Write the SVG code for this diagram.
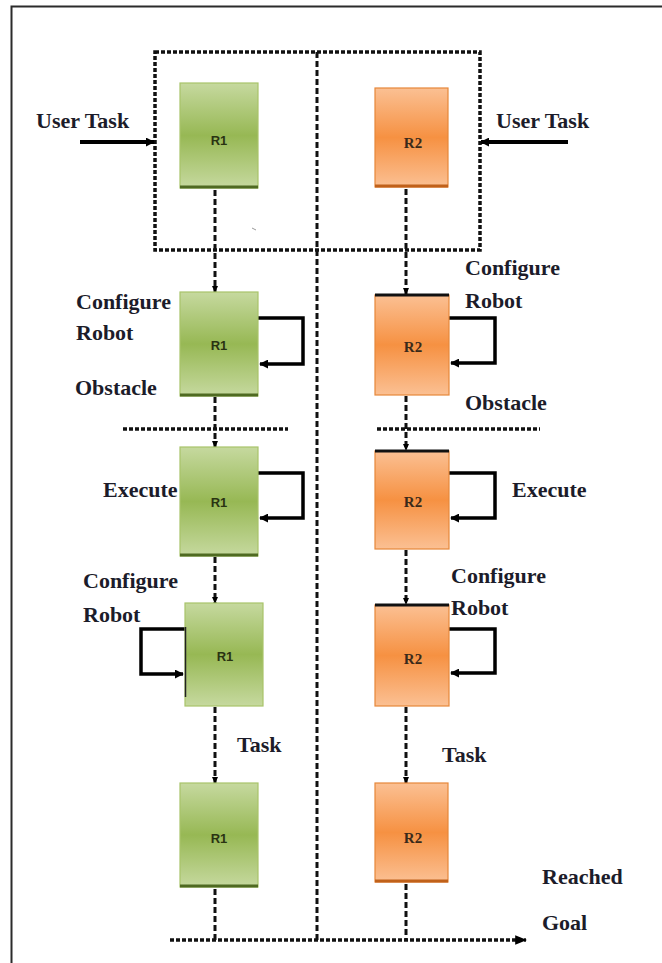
<svg xmlns="http://www.w3.org/2000/svg" width="662" height="963" viewBox="0 0 662 963">
<defs>
<linearGradient id="gG" x1="0" y1="0" x2="0" y2="1">
<stop offset="0" stop-color="#c6d99f"/>
<stop offset="0.5" stop-color="#97b854"/>
<stop offset="1" stop-color="#c6d99f"/>
</linearGradient>
<linearGradient id="gO" x1="0" y1="0" x2="0" y2="1">
<stop offset="0" stop-color="#fbc093"/>
<stop offset="0.5" stop-color="#f69142"/>
<stop offset="1" stop-color="#fbc093"/>
</linearGradient>
<marker id="dot" viewBox="0 0 8 8" refX="6" refY="4" markerWidth="8" markerHeight="8" markerUnits="userSpaceOnUse" orient="auto">
<path d="M0,1 L7,4 L0,7 Z" fill="#000"/>
</marker>
<marker id="arr" viewBox="0 0 10 10" refX="9" refY="5" markerWidth="9" markerHeight="9" markerUnits="userSpaceOnUse" orient="auto">
<path d="M0,0 L10,5 L0,10 Z" fill="#000"/>
</marker>
<marker id="arr2" viewBox="0 0 10 10" refX="9" refY="5" markerWidth="12" markerHeight="12" markerUnits="userSpaceOnUse" orient="auto">
<path d="M0,1 L10,5 L0,9 Z" fill="#000"/>
</marker>
</defs>
<style>
.lbl{font-family:"Liberation Serif","Times New Roman",serif;font-weight:bold;font-size:22px;fill:#1c1c2a}
.r1{font-family:"Liberation Sans",Arial,sans-serif;font-weight:bold;font-size:13px;fill:#2a3312;text-anchor:middle}
.r2{font-family:"Liberation Serif","Times New Roman",serif;font-weight:bold;font-size:15px;fill:#3a2a1a;text-anchor:middle}
.gbox{fill:url(#gG);stroke:#a8c46a;stroke-width:1.2}
.obox{fill:url(#gO);stroke:#e6873a;stroke-width:1.2}
.gedge{stroke:#4f6a22;stroke-width:3}
.oedge{stroke:#c0611a;stroke-width:3}
.topedge{stroke:#111;stroke-width:3}
.dash{fill:none;stroke:#111;stroke-width:3;stroke-dasharray:6 3}
.dot{fill:none;stroke:#111;stroke-width:3.5;stroke-dasharray:4 2}
.loop{fill:none;stroke:#000;stroke-width:3.5}
.arrow{fill:none;stroke:#000;stroke-width:4}
</style>
<rect width="662" height="963" fill="#fff"/>
<path d="M11.5,963 V6.5 H662" fill="none" stroke="#2b2b2b" stroke-width="2"/>

<g id="frame">
<rect x="155" y="52" width="325" height="198" class="dot"/>
<line x1="317" y1="52" x2="317" y2="940" class="dash"/>
<line x1="123" y1="429" x2="288" y2="429" class="dot"/>
<line x1="377" y1="429" x2="540" y2="429" class="dot"/>
<line x1="252" y1="228" x2="256" y2="230" stroke="#999" stroke-width="1"/>
</g>

<g id="connectors">
<line x1="80" y1="142" x2="154" y2="142" class="arrow" marker-end="url(#arr)"/>
<line x1="568" y1="142" x2="481" y2="142" class="arrow" marker-end="url(#arr)"/>
<line x1="215" y1="190" x2="215" y2="292" class="dash" marker-end="url(#dot)"/>
<line x1="215" y1="397" x2="215" y2="447" class="dash" marker-end="url(#dot)"/>
<line x1="215" y1="557" x2="215" y2="603" class="dash" marker-end="url(#dot)"/>
<line x1="215" y1="707" x2="215" y2="783" class="dash" marker-end="url(#dot)"/>
<line x1="215" y1="889" x2="215" y2="940" class="dash"/>
<line x1="406" y1="189" x2="406" y2="294" class="dash" marker-end="url(#dot)"/>
<line x1="406" y1="396" x2="406" y2="450" class="dash" marker-end="url(#dot)"/>
<line x1="406" y1="550" x2="406" y2="604" class="dash" marker-end="url(#dot)"/>
<line x1="406" y1="707" x2="406" y2="783" class="dash" marker-end="url(#dot)"/>
<line x1="406" y1="884" x2="406" y2="940" class="dash"/>
<line x1="170" y1="940" x2="526" y2="940" class="dot" marker-end="url(#arr2)"/>
<path d="M258,318 H303 V364 H260" class="loop" marker-end="url(#arr)"/>
<path d="M449,318 H495 V363 H451" class="loop" marker-end="url(#arr)"/>
<path d="M258,473 H303 V518 H260" class="loop" marker-end="url(#arr)"/>
<path d="M449,473 H495 V518 H451" class="loop" marker-end="url(#arr)"/>
<path d="M185,629 H141 V674 H183" class="loop" marker-end="url(#arr)"/>
<path d="M449,629 H495 V673 H451" class="loop" marker-end="url(#arr)"/>
</g>

<g id="r1-start">
<rect x="180" y="83" width="78" height="105" class="gbox"/>
<line x1="180" y1="187" x2="258" y2="187" class="gedge"/>
<text x="219" y="145" class="r1">R1</text>
</g>
<g id="r2-start">
<rect x="375" y="88" width="73" height="99" class="obox"/>
<line x1="375" y1="186" x2="448" y2="186" class="oedge"/>
<text x="413" y="148" class="r2">R2</text>
</g>
<g id="r1-configure">
<rect x="180" y="292" width="78" height="104" class="gbox"/>
<line x1="180" y1="395" x2="258" y2="395" class="gedge"/>
<text x="219" y="350" class="r1">R1</text>
</g>
<g id="r2-configure">
<rect x="375" y="295" width="74" height="100" class="obox"/>
<line x1="375" y1="295" x2="449" y2="295" class="topedge"/>
<text x="413" y="352" class="r2">R2</text>
</g>
<g id="r1-execute">
<rect x="180" y="447" width="78" height="109" class="gbox"/>
<line x1="180" y1="555" x2="258" y2="555" class="gedge"/>
<text x="219" y="507" class="r1">R1</text>
</g>
<g id="r2-execute">
<rect x="375" y="451" width="74" height="98" class="obox"/>
<line x1="375" y1="451" x2="449" y2="451" class="topedge"/>
<text x="413" y="507" class="r2">R2</text>
</g>
<g id="r1-reconfigure">
<rect x="185" y="603" width="78" height="103" class="gbox"/>
<line x1="185.5" y1="627" x2="185.5" y2="697" stroke="#222" stroke-width="1.5"/>
<text x="225" y="661" class="r1">R1</text>
</g>
<g id="r2-reconfigure">
<rect x="375" y="605" width="74" height="101" class="obox"/>
<line x1="375" y1="605" x2="449" y2="605" class="topedge"/>
<text x="413" y="664" class="r2">R2</text>
</g>
<g id="r1-goal">
<rect x="180" y="783" width="78" height="104" class="gbox"/>
<line x1="180" y1="886" x2="258" y2="886" class="gedge"/>
<text x="219" y="843" class="r1">R1</text>
</g>
<g id="r2-goal">
<rect x="375" y="783" width="73" height="99" class="obox"/>
<line x1="375" y1="881" x2="448" y2="881" class="oedge"/>
<text x="413" y="843" class="r2">R2</text>
</g>

<g id="labels">
<text x="36" y="128" class="lbl">User Task</text>
<text x="496" y="128" class="lbl">User Task</text>
<text x="76" y="309" class="lbl">Configure</text>
<text x="76" y="340" class="lbl">Robot</text>
<text x="75" y="395" class="lbl">Obstacle</text>
<text x="465" y="275" class="lbl">Configure</text>
<text x="465" y="308" class="lbl">Robot</text>
<text x="465" y="410" class="lbl">Obstacle</text>
<text x="103" y="497" class="lbl">Execute</text>
<text x="512" y="497" class="lbl">Execute</text>
<text x="83" y="588" class="lbl">Configure</text>
<text x="83" y="622" class="lbl">Robot</text>
<text x="451" y="583" class="lbl">Configure</text>
<text x="451" y="615" class="lbl">Robot</text>
<text x="237" y="752" class="lbl">Task</text>
<text x="442" y="762" class="lbl">Task</text>
<text x="542" y="884" class="lbl">Reached</text>
<text x="542" y="930" class="lbl">Goal</text>
</g>
</svg>
